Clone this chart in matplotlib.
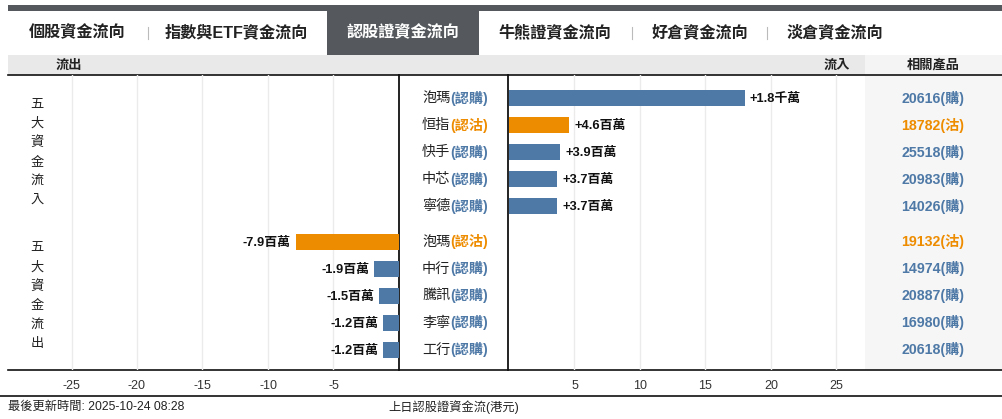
import matplotlib
matplotlib.use("Agg")
import matplotlib.pyplot as plt
import matplotlib.transforms as mtransforms
from matplotlib.patches import Rectangle

# ---------------- data ----------------
tabs = ["個股資金流向", "指數與ETF資金流向", "認股證資金流向", "牛熊證資金流向", "好倉資金流向", "淡倉資金流向"]
active_tab = 2

in_names = ["泡瑪", "恒指", "快手", "中芯", "寧德"]
in_types = ["認購", "認沽", "認購", "認購", "認購"]
in_values = [18.0, 4.6, 3.9, 3.7, 3.7]          # 百萬港元
in_labels = ["+1.8千萬", "+4.6百萬", "+3.9百萬", "+3.7百萬", "+3.7百萬"]
in_products = ["20616(購)", "18782(沽)", "25518(購)", "20983(購)", "14026(購)"]

out_names = ["泡瑪", "中行", "騰訊", "李寧", "工行"]
out_types = ["認沽", "認購", "認購", "認購", "認購"]
out_values = [-7.9, -1.9, -1.5, -1.2, -1.2]      # 百萬港元
out_labels = ["-7.9百萬", "-1.9百萬", "-1.5百萬", "-1.2百萬", "-1.2百萬"]
out_products = ["19132(沽)", "14974(購)", "20887(購)", "16980(購)", "20618(購)"]

left_ticks = [-25, -20, -15, -10, -5]
right_ticks = [5, 10, 15, 20, 25]

update_text = "最後更新時間: 2025-10-24 08:28"
axis_title = "上日認股證資金流(港元)"

# ---------------- style ----------------
W, H = 1003, 419
BLUE = "#4e79a7"
ORANGE = "#ee8c00"
DARK = "#55595d"
GRID = "#ebebeb"
CJK = ["Noto Sans CJK TC"]
MIX = ["Liberation Sans", "Noto Sans CJK TC"]
type_color = {"認購": BLUE, "認沽": ORANGE}
prod_color = lambda s: ORANGE if "沽" in s else BLUE

fig = plt.figure(figsize=(W / 100, H / 100), dpi=100)
fig.patch.set_facecolor("white")

bg = fig.add_axes([0, 0, 1, 1])
bg.set_xlim(0, W)
bg.set_ylim(H, 0)
bg.axis("off")


def px_axes(x0, y0, x1, y1):
    a = fig.add_axes([x0 / W, 1 - y1 / H, (x1 - x0) / W, (y1 - y0) / H])
    a.set_facecolor("none")
    for s in a.spines.values():
        s.set_visible(False)
    return a


# layout (pixels)
TOP, BOT = 75, 370
ZL, ZR, RIGHT_END = 399, 509, 865
SCALE = 13.1            # px per unit
ROW = 27.0              # px per row
FIRST = 98              # pixel centre of first row
GAP = 8.5 / ROW         # extra gap between groups (in rows)

# backgrounds
bg.add_patch(Rectangle((8, 5), W - 8, 6, color=DARK, lw=0))
tab_centers = [77, 236, 403, 555, 700, 835]
bg.add_patch(Rectangle((327, 11), 152, 44, color=DARK, lw=0))
bg.add_patch(Rectangle((8, 55), W - 8, 20, color="#e9e9e9", lw=0))
bg.add_patch(Rectangle((865, 55), W - 865, 20, color="#f4f4f4", lw=0))
bg.add_patch(Rectangle((865, TOP), W - 865, BOT - TOP, color="#f6f6f6", lw=0))

for i, (t, cx) in enumerate(zip(tabs, tab_centers)):
    bg.text(cx, 32.5, t, ha="center", va="center", fontsize=11.6, fontweight="bold",
            family=MIX, color="white" if i == active_tab else "#222222")
for sx in [148, 632, 767]:
    bg.plot([sx, sx], [27, 39], color="#bbbbbb", lw=0.8)

bg.text(69, 65, "流出", ha="center", va="center", fontsize=9.5, fontweight="bold", family=CJK, color="#222")
bg.text(837, 65, "流入", ha="center", va="center", fontsize=9.5, fontweight="bold", family=CJK, color="#222")
bg.text(933, 65, "相關產品", ha="center", va="center", fontsize=9.5, fontweight="bold", family=CJK, color="#222")

# lines
bg.plot([8, W], [TOP, TOP], color="#111", lw=1.2)
bg.plot([8, W], [BOT, BOT], color="#111", lw=1.2)
bg.plot([0, W], [396, 396], color="#111", lw=1.2)

# ---------------- bar axes ----------------
ytop_row = (TOP - FIRST) / ROW
ybot_row = (BOT - FIRST) / ROW
in_pos = [i for i in range(len(in_values))]
out_pos = [len(in_values) + GAP + i for i in range(len(out_values))]

axL = px_axes(8, TOP, ZL, BOT)
axL.set_xlim(-(ZL - 8) / SCALE, 0)
axR = px_axes(ZR, TOP, RIGHT_END, BOT)
axR.set_xlim(0, (RIGHT_END - ZR) / SCALE)
for a, ticks in [(axL, left_ticks), (axR, right_ticks)]:
    a.set_ylim(ybot_row, ytop_row)
    a.set_xticks(ticks)
    a.set_xticklabels([str(t) for t in ticks], family=MIX, fontsize=9, color="#333")
    a.set_yticks([])
    a.tick_params(axis="x", length=0, pad=7)
    a.grid(axis="x", color=GRID, lw=1)
    a.set_axisbelow(True)

bar_h = 16 / ROW
in_colors = [type_color[t] for t in in_types]
out_colors = [type_color[t] for t in out_types]
axR.barh(in_pos, in_values, height=bar_h, color=in_colors, zorder=3)
axL.barh(out_pos, out_values, height=bar_h, color=out_colors, zorder=3)

for y, v, lab in zip(in_pos, in_values, in_labels):
    axR.annotate(lab, (v, y), xytext=(5, -1), textcoords="offset pixels", ha="left", va="center",
                 fontsize=9.3, fontweight="bold", family=MIX, color="#111", annotation_clip=False)
for y, v, lab in zip(out_pos, out_values, out_labels):
    axL.annotate(lab, (v, y), xytext=(-5, -1), textcoords="offset pixels", ha="right", va="center",
                 fontsize=9.3, fontweight="bold", family=MIX, color="#111", annotation_clip=False)

# centre lines
bg.plot([ZL, ZL], [TOP, BOT], color="#111", lw=1.3)
bg.plot([ZR - 0.5, ZR - 0.5], [TOP, BOT], color="#111", lw=1.3)

# name labels and products
tr = mtransforms.blended_transform_factory(bg.transData, axR.transData)
for names, types, pos, prods in [(in_names, in_types, in_pos, in_products),
                                 (out_names, out_types, out_pos, out_products)]:
    for n, t, y, p in zip(names, types, pos, prods):
        t_txt = bg.text(488, y, f"({t})", transform=tr, ha="right", va="center", fontsize=10.2,
                        fontweight="bold", family=MIX, color=type_color[t])
        bg.annotate(n, xy=(0, y), xycoords=(t_txt, tr), ha="right", va="center",
                    fontsize=10.2, family=MIX, color="#222")
        bg.text(933, y, p, transform=tr, ha="center", va="center", fontsize=10.2,
                fontweight="bold", family=MIX, color=prod_color(p))

# group labels (vertical)
for label, pos in [("五大資金流入", in_pos), ("五大資金流出", out_pos)]:
    c = (pos[0] + pos[-1]) / 2
    n = len(label)
    for k, ch in enumerate(label):
        yy = c + (k - (n - 1) / 2) * (19.1 / ROW)
        bg.text(37, yy, ch, transform=tr, ha="center", va="center", fontsize=9.5,
                family=CJK, color="#222")

bg.text(8, 407, update_text, ha="left", va="center", fontsize=8.8, family=MIX, color="#222")
bg.text(388, 407, axis_title, ha="left", va="center", fontsize=8.8, family=MIX, color="#222")

fig.savefig("out.png", dpi=100)
